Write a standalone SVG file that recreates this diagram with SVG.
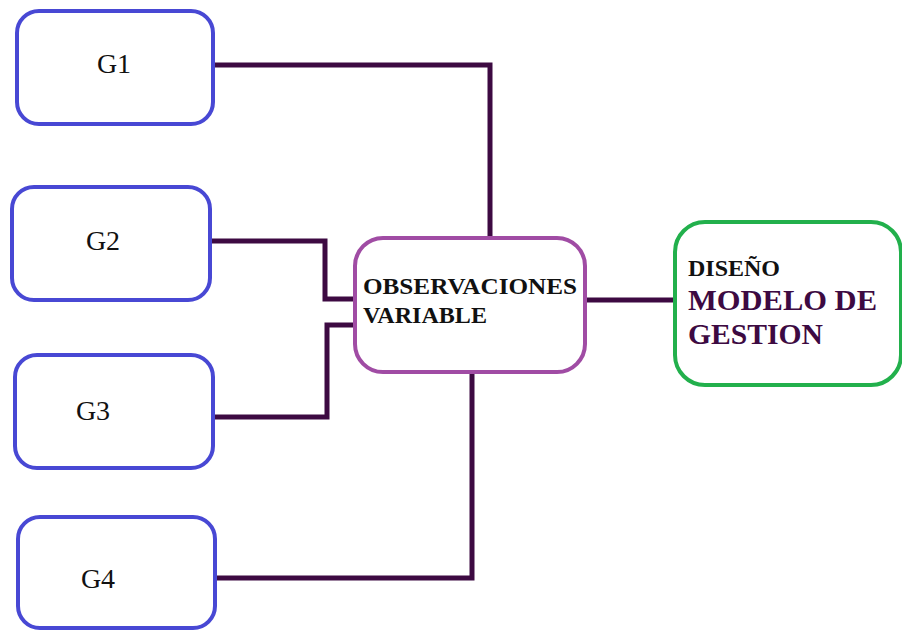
<svg xmlns="http://www.w3.org/2000/svg" width="902" height="632" viewBox="0 0 902 632">
  <style>
    .grp { fill: #ffffff; stroke: #4848d4; stroke-width: 4; }
    .obs { fill: #ffffff; stroke: #a04ca4; stroke-width: 4; }
    .dis { fill: #ffffff; stroke: #22b04c; stroke-width: 4; }
    text { font-family: 'Liberation Serif', 'DejaVu Serif', 'Times New Roman', serif; }
    .lbl { font-size: 28px; fill: #111111; }
    .bold { font-weight: bold; fill: #111111; }
    .dark { font-weight: bold; fill: #3d0a42; }
    .wire { fill: none; stroke: #3d0a42; stroke-width: 5; stroke-linejoin: miter; }
  </style>

  <!-- connectors -->
  <g id="connectors">
    <polyline class="wire" points="213,65 490,65 490,238"/>
    <polyline class="wire" points="210,241 325,241 325,299 355,299"/>
    <polyline class="wire" points="213,417 327,417 327,325 355,325"/>
    <polyline class="wire" points="215,578 472,578 472,372"/>
    <line class="wire" x1="585" y1="300" x2="675" y2="300"/>
  </g>

  <g id="g1">
    <rect class="grp" x="17" y="11" width="196" height="113" rx="22" ry="22"/>
    <text class="lbl" x="114" y="73" text-anchor="middle">G1</text>
  </g>
  <g id="g2">
    <rect class="grp" x="12" y="187" width="198" height="113" rx="22" ry="22"/>
    <text class="lbl" x="103" y="250" text-anchor="middle">G2</text>
  </g>
  <g id="g3">
    <rect class="grp" x="15" y="355" width="198" height="113" rx="22" ry="22"/>
    <text class="lbl" x="93" y="420" text-anchor="middle">G3</text>
  </g>
  <g id="g4">
    <rect class="grp" x="18" y="517" width="197" height="111" rx="22" ry="22"/>
    <text class="lbl" x="98" y="588" text-anchor="middle">G4</text>
  </g>

  <g id="observaciones">
    <rect class="obs" x="355" y="238" width="230" height="134" rx="28" ry="28"/>
    <text class="bold" x="363" y="294" font-size="24" textLength="214" lengthAdjust="spacingAndGlyphs">OBSERVACIONES</text>
    <text class="bold" x="363" y="323" font-size="24" textLength="124" lengthAdjust="spacingAndGlyphs">VARIABLE</text>
  </g>

  <g id="diseno">
    <rect class="dis" x="675" y="222" width="226" height="163" rx="30" ry="30"/>
    <text class="bold" x="688" y="276" font-size="24" textLength="92" lengthAdjust="spacingAndGlyphs">DISEÑO</text>
    <text class="dark" x="688" y="310" font-size="30" textLength="189" lengthAdjust="spacingAndGlyphs">MODELO DE</text>
    <text class="dark" x="688" y="344" font-size="30" textLength="135" lengthAdjust="spacingAndGlyphs">GESTION</text>
  </g>
</svg>
